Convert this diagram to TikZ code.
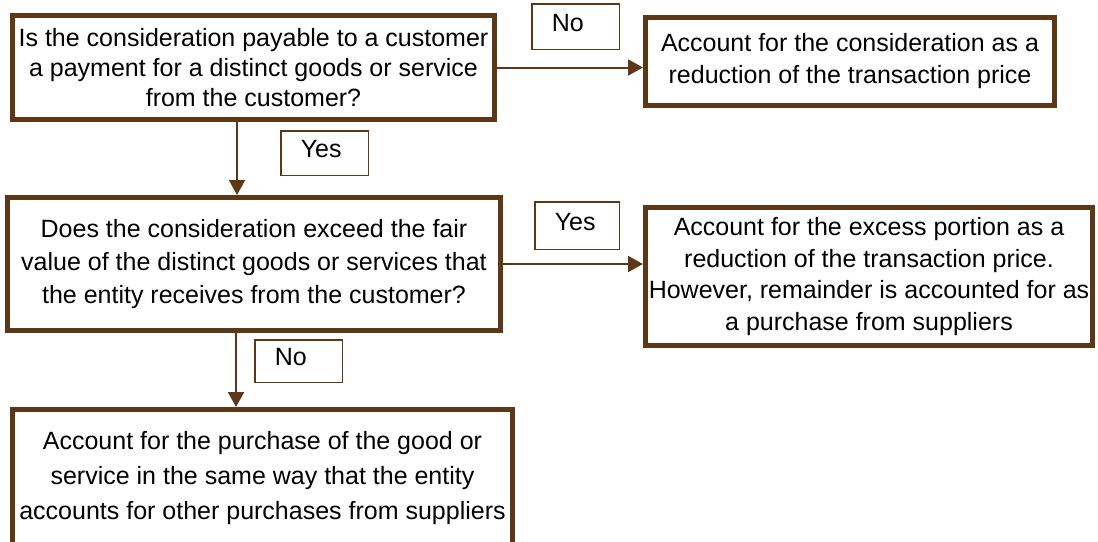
\documentclass[tikz,border=0pt]{standalone}
\usepackage{fontspec}
\setmainfont{Liberation Sans}
\usepackage{tikz}
\usetikzlibrary{arrows.meta,calc,positioning}
\definecolor{boxbrown}{RGB}{94,56,22}

\begin{document}
\begin{tikzpicture}[x=1pt,y=-1pt,
        bigbox/.style={rectangle,draw=boxbrown,line width=5pt,fill=white,
            inner sep=0pt,align=center,font=\fontsize{25}{#1}\selectfont},
        bigbox/.default=30,
        tagbox/.style={rectangle,draw=boxbrown,line width=1.5pt,fill=white,
            inner xsep=20pt,inner ysep=0pt,align=left,text width=47.5pt,
            text height=18pt,text depth=9pt,font=\fontsize{25}{30}\selectfont},
        arr/.style={draw=boxbrown,line width=2pt,
            -{Triangle[length=15pt,width=16pt]}}]
    \useasboundingbox (0,0) rectangle (1098,541);
    % questions
    \node[bigbox=30,minimum width=482pt,minimum height=104pt](q1) at (253.5,67.5)
        {Is the consideration payable to a customer\\
         a payment for a distinct goods or service\\
         from the customer?};
    \node[bigbox=33,minimum width=493pt,minimum height=133pt](q2) at (254,264)
        {Does the consideration exceed the fair\\
         value of the distinct goods or services that\\
         the entity receives from the customer?};
    % outcomes
    \node[bigbox=32,minimum width=409pt,minimum height=88pt](a1) at (850,61.5)
        {Account for the consideration as a\\
         reduction of the transaction price};
    \node[bigbox=31.5,minimum width=447pt,minimum height=138pt](a2) at (869,276.5)
        {Account for the excess portion as a\\
         reduction of the transaction price.\\
         However, remainder is accounted for as\\
         a purchase from suppliers};
    \node[bigbox=35,minimum width=500pt,minimum height=137pt](a3) at (262.5,478)
        {Account for the purchase of the good or\\
         service in the same way that the entity\\
         accounts for other purchases from suppliers};
    % answer tags
    \node[tagbox,minimum height=45.5pt](no1) at (575.5,26.5) {No};
    \node[tagbox,minimum height=44.5pt](yes1) at (324.5,153) {Yes};
    \node[tagbox,text width=44.5pt,minimum height=47.5pt](yes2) at (577,225.5) {Yes};
    \node[tagbox,minimum height=42.5pt](no2) at (298.5,361) {No};
    % connectors
    \draw[arr] (q1.east) -- (q1.east -| a1.west);
    \draw[arr] ([xshift=-16.5pt]q1.south) -- ([xshift=-16.5pt]q1.south |- q2.north);
    \draw[arr] (q2.east) -- (q2.east -| a2.west);
    \draw[arr] ([xshift=-18pt]q2.south) -- ([xshift=-18pt]q2.south |- a3.north);
\end{tikzpicture}
\end{document}
